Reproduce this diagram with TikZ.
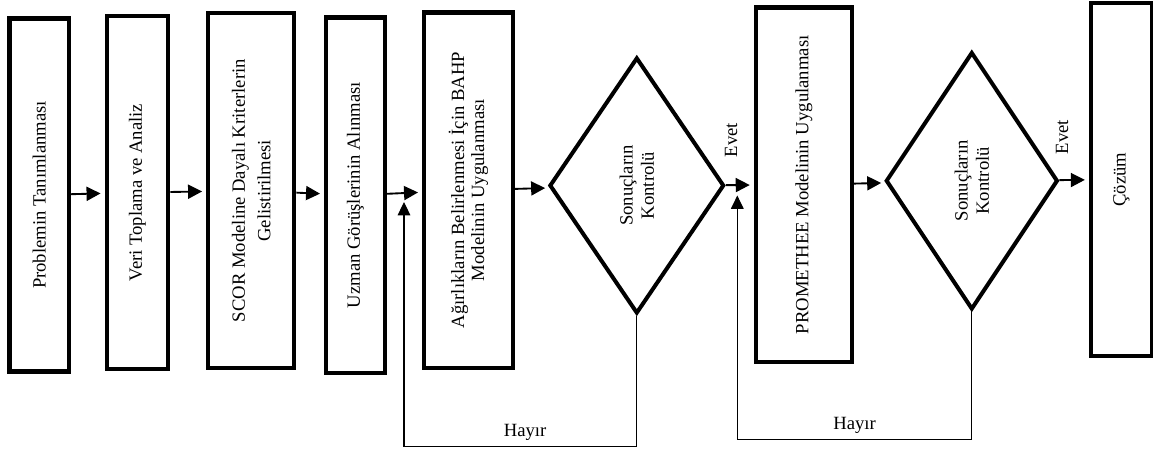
\documentclass[tikz,border=0pt]{standalone}
\usepackage{fontspec}
\setmainfont{Liberation Serif}
\usetikzlibrary{arrows.meta, shapes.geometric}

\begin{document}
\begin{tikzpicture}[
  x=0.75pt, y=-0.75pt,
  every node/.style={font=\fontsize{14}{20}\selectfont, align=center},
  stepbox/.style={draw, rectangle, line width=3.2pt, rotate=90, inner sep=0pt},
  check/.style={draw, diamond, line width=3pt, rotate=90, inner sep=0pt, font=\fontsize{14}{16}\selectfont},
  arrow/.style={-{Triangle[length=10.5pt, width=10.5pt]}, line width=1.4pt, shorten >=3pt},
  back/.style={-{Triangle[length=10pt, width=9.5pt]}, line width=0.8pt}
]
\useasboundingbox (0,0) rectangle (1153,450);

% Steps
\node[stepbox, minimum width=264.8pt, minimum height=44.6pt] (prob) at (39.3,195) {Problemin Tanımlanması};
\node[stepbox, minimum width=265pt, minimum height=46.2pt] (veri) at (137.5,192.5) {Veri Toplama ve Analiz};
\node[stepbox, minimum width=266.3pt, minimum height=64.5pt, font=\fontsize{14}{19}\selectfont] (scor) at (251.2,190.7) {SCOR Modeline Dayalı Kriterlerin\\Gelistirilmesi};
\node[stepbox, minimum width=266.5pt, minimum height=44pt] (uzman) at (355.5,195.2) {Uzman Görüşlerinin Alınması};
\node[stepbox, minimum width=266.5pt, minimum height=66.5pt, font=\fontsize{14}{15}\selectfont] (bahp) at (468.5,190.2) {Ağırlıkların Belirlenmesi İçin BAHP\\Modelinin Uygulanması};
\node[check, minimum height=131pt, minimum width=192pt] (kont1) at (636.8,185.5) {Sonuçların\\Kontrolü};
\node[stepbox, minimum width=266pt, minimum height=71.9pt] (prom) at (803.8,184.8) {PROMETHEE Modelinin Uygulanması};
\node[check, minimum height=129pt, minimum width=193pt] (kont2) at (971.8,180.8) {Sonuçların\\Kontrolü};
\node[stepbox, minimum width=264.4pt, minimum height=45.8pt] (cozum) at (1121.5,179.6) {Çözüm};

% Arrows
\draw[arrow] (prob) -- (veri);
\draw[arrow] (veri) -- (scor);
\draw[arrow] (scor) -- (uzman);
\draw[arrow] (uzman) -- (bahp);
\draw[arrow] (bahp) -- (kont1);
\draw[arrow] (kont1) -- (prom);
\draw[arrow] (prom) -- (kont2);
\draw[arrow] (kont2) -- (cozum);

% Labels
\node[rotate=90] (evet1) at (731,140) {Evet};
\node[rotate=90] (evet2) at (1062,137) {Evet};

% Feedback loops
\coordinate (back1) at (404,202);
\coordinate (low1) at (404,446.5);
\coordinate (back2) at (737.3,195.5);
\coordinate (low2) at (737.3,439.5);
\draw[back] (kont1) |- node[pos=0.74, above=1pt] (hayir1) {Hayır} (low1) -- (back1);
\draw[back] (kont2) |- node[pos=0.75, above=1pt] (hayir2) {Hayır} (low2) -- (back2);

\end{tikzpicture}
\end{document}
